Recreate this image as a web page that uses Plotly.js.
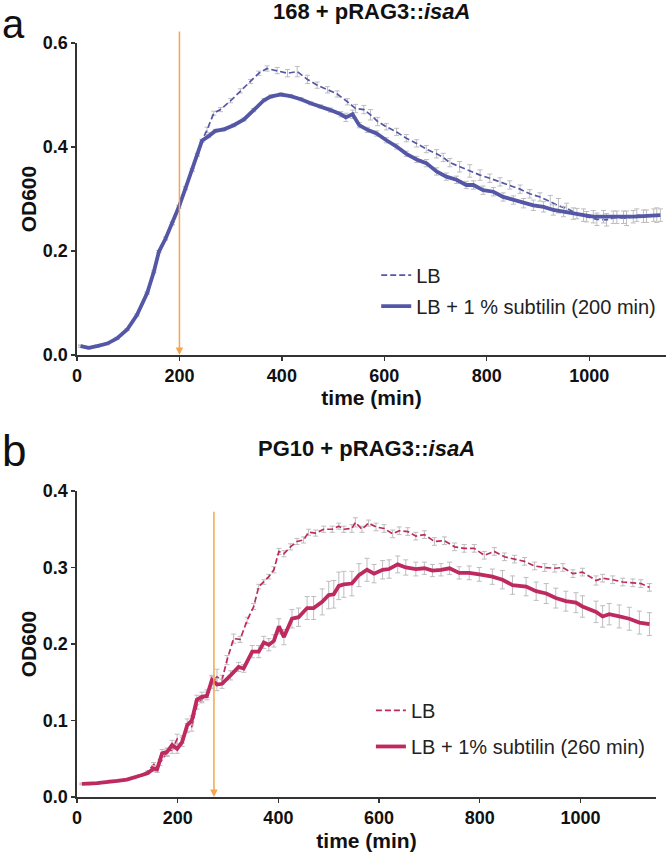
<!DOCTYPE html>
<html>
<head>
<meta charset="utf-8">
<script src="https://cdn.plot.ly/plotly-3.0.1.min.js"></script>
<style>html,body{margin:0;padding:0;background:#fff;}#chart{width:666px;height:852px;}</style>
</head>
<body>
<div id="chart"></div>
<script>
// ---------- Panel a: 168 + pRAG3::isaA ----------
const timeA_sub = [7,23,39,59,78,98,117,137,150,160,173,186,199,212,225,235,244,257,270,287,306,326,345,365,378,398,417,437,456,476,495,515,525,538,551,567,585,604,624,643,663,682,702,721,741,760,774,793,813,832,852,872,891,911,930,950,969,989,1008,1028,1047,1067,1086,1106,1126,1139];
const odA_sub = [0.017,0.014,0.017,0.022,0.032,0.049,0.077,0.119,0.160,0.199,0.224,0.253,0.285,0.321,0.356,0.385,0.412,0.421,0.431,0.434,0.442,0.453,0.471,0.490,0.497,0.501,0.498,0.492,0.484,0.478,0.471,0.463,0.457,0.463,0.442,0.433,0.426,0.413,0.401,0.387,0.376,0.369,0.353,0.343,0.337,0.327,0.327,0.317,0.314,0.304,0.298,0.292,0.288,0.285,0.279,0.276,0.272,0.269,0.266,0.266,0.265,0.265,0.266,0.267,0.269,0.269];
const errA_sub = [0.002,0.002,0.002,0.002,0.002,0.002,0.002,0.002,0.002,0.002,0.003,0.003,0.003,0.003,0.003,0.003,0.003,0.003,0.003,0.003,0.003,0.003,0.003,0.003,0.003,0.003,0.003,0.003,0.003,0.003,0.004,0.005,0.008,0.008,0.005,0.005,0.005,0.005,0.005,0.005,0.006,0.007,0.007,0.007,0.007,0.007,0.008,0.008,0.008,0.008,0.008,0.009,0.010,0.010,0.010,0.010,0.011,0.012,0.012,0.012,0.012,0.012,0.012,0.012,0.012,0.012];

const timeA_LB = [7,23,39,59,78,98,117,137,150,160,173,186,199,212,225,235,244,254,267,280,300,319,339,355,371,391,411,430,450,469,489,508,528,544,560,573,587,604,624,643,663,682,702,715,728,747,767,787,806,826,845,865,884,904,924,940,956,976,995,1015,1034,1054,1073,1093,1112,1132];
const odA_LB = [0.017,0.014,0.017,0.022,0.032,0.049,0.077,0.119,0.160,0.199,0.224,0.253,0.285,0.321,0.356,0.385,0.412,0.433,0.465,0.472,0.489,0.508,0.526,0.542,0.551,0.547,0.542,0.545,0.530,0.519,0.510,0.502,0.487,0.474,0.472,0.462,0.449,0.439,0.429,0.417,0.407,0.396,0.387,0.380,0.370,0.362,0.354,0.346,0.340,0.333,0.327,0.319,0.310,0.304,0.295,0.287,0.282,0.272,0.266,0.261,0.260,0.265,0.263,0.269,0.267,0.269];
const errA_LB = [0.002,0.002,0.002,0.002,0.002,0.002,0.002,0.002,0.002,0.002,0.002,0.002,0.002,0.002,0.002,0.002,0.002,0.005,0.004,0.004,0.004,0.004,0.004,0.004,0.005,0.006,0.007,0.010,0.008,0.006,0.006,0.006,0.006,0.008,0.008,0.010,0.008,0.006,0.007,0.007,0.007,0.007,0.008,0.008,0.008,0.010,0.012,0.010,0.008,0.008,0.008,0.008,0.008,0.008,0.012,0.014,0.010,0.010,0.010,0.012,0.012,0.012,0.014,0.012,0.012,0.014];

// ---------- Panel b: PG10 + pRAG3::isaA ----------
const timeB_sub = [10,25,40,53,66,80,99,113,126,140,152,159,169,179,189,199,209,219,228,238,248,258,268,278,288,305,321,331,348,361,371,381,391,401,411,427,440,457,470,487,500,510,520,530,546,560,576,590,607,620,637,653,673,690,706,723,740,759,779,799,825,845,865,892,912,932,951,971,991,1004,1031,1044,1057,1077,1097,1117,1137];
const odB_sub = [0.017,0.017,0.018,0.019,0.0205,0.021,0.0227,0.025,0.028,0.031,0.037,0.036,0.057,0.059,0.068,0.063,0.072,0.094,0.100,0.127,0.131,0.132,0.153,0.147,0.148,0.159,0.170,0.168,0.190,0.190,0.202,0.199,0.204,0.223,0.209,0.233,0.235,0.247,0.247,0.255,0.264,0.265,0.276,0.278,0.279,0.290,0.297,0.292,0.297,0.298,0.304,0.300,0.298,0.299,0.296,0.297,0.299,0.293,0.293,0.291,0.288,0.284,0.277,0.275,0.269,0.266,0.260,0.256,0.254,0.249,0.242,0.236,0.239,0.236,0.233,0.228,0.226];
const errB_sub = [0.001,0.001,0.001,0.001,0.001,0.001,0.001,0.001,0.001,0.001,0.004,0.004,0.005,0.005,0.006,0.006,0.006,0.008,0.006,0.006,0.006,0.005,0.006,0.008,0.006,0.006,0.006,0.005,0.008,0.008,0.008,0.008,0.008,0.010,0.010,0.012,0.012,0.015,0.015,0.017,0.018,0.018,0.018,0.017,0.016,0.015,0.015,0.012,0.012,0.012,0.011,0.010,0.009,0.008,0.008,0.008,0.008,0.008,0.009,0.009,0.010,0.012,0.012,0.012,0.012,0.013,0.013,0.013,0.013,0.014,0.014,0.014,0.014,0.015,0.015,0.015,0.015];

const timeB_LB = [10,25,40,53,66,80,99,113,126,140,152,165,179,189,199,209,219,228,238,248,258,268,278,288,298,311,324,338,351,361,371,381,391,401,411,424,437,450,460,474,490,507,520,530,546,553,566,579,594,610,627,640,657,673,690,710,730,750,769,789,809,829,849,869,889,909,929,949,965,985,1004,1031,1044,1064,1084,1104,1120,1137];
const odB_LB = [0.017,0.017,0.018,0.019,0.021,0.021,0.023,0.025,0.028,0.033,0.042,0.045,0.058,0.062,0.076,0.075,0.090,0.092,0.120,0.128,0.135,0.150,0.157,0.153,0.179,0.207,0.206,0.231,0.249,0.275,0.281,0.288,0.297,0.321,0.318,0.327,0.334,0.336,0.346,0.345,0.350,0.350,0.354,0.350,0.351,0.359,0.350,0.358,0.353,0.351,0.344,0.348,0.347,0.341,0.343,0.334,0.335,0.327,0.325,0.325,0.316,0.321,0.314,0.311,0.308,0.302,0.300,0.299,0.300,0.292,0.294,0.283,0.286,0.284,0.281,0.280,0.279,0.274];
const errB_LB = [0.001,0.001,0.001,0.001,0.001,0.001,0.001,0.001,0.001,0.001,0.003,0.004,0.005,0.005,0.006,0.005,0.006,0.006,0.005,0.005,0.005,0.008,0.010,0.006,0.006,0.006,0.004,0.004,0.004,0.003,0.003,0.003,0.004,0.004,0.004,0.004,0.004,0.004,0.004,0.004,0.004,0.004,0.004,0.004,0.005,0.006,0.004,0.004,0.005,0.005,0.005,0.005,0.005,0.005,0.005,0.005,0.005,0.005,0.005,0.005,0.005,0.005,0.005,0.005,0.005,0.005,0.005,0.005,0.005,0.005,0.005,0.006,0.005,0.005,0.005,0.005,0.005,0.005];

const xTicks = [0, 200, 400, 600, 800, 1000];
const addTimeA = 200;   // subtilin addition, panel a
const addTimeB = 272;   // subtilin addition, panel b (arrow position)

const BLUE = '#5357A6';
const RED = '#BE2A5F';
const ORANGE = '#F5A54E';
const ERR = '#BDBDBD';
const FONT = 'Liberation Sans, Arial, Helvetica, sans-serif';

function err(arr){ return {type:'data', array:arr, visible:true, color:ERR, thickness:1, width:2.5}; }

const traces = [
  {x: timeA_LB, y: odA_LB, error_y: err(errA_LB), mode:'lines', name:'LB',
   line:{color:BLUE, width:1.7, dash:'6px,3px'}, xaxis:'x', yaxis:'y', legend:'legend', legendgroup:'a1'},
  {x: timeA_sub, y: odA_sub, error_y: err(errA_sub), mode:'lines', name:'LB + 1 % subtilin (200 min)',
   line:{color:BLUE, width:3.8}, xaxis:'x', yaxis:'y', legend:'legend', legendgroup:'a2'},
  {x: timeB_LB, y: odB_LB, error_y: err(errB_LB), mode:'lines', name:'LB',
   line:{color:RED, width:1.7, dash:'6px,3px'}, xaxis:'x2', yaxis:'y2', legend:'legend2', legendgroup:'b1'},
  {x: timeB_sub, y: odB_sub, error_y: err(errB_sub), mode:'lines', name:'LB + 1% subtilin (260 min)',
   line:{color:RED, width:3.8}, xaxis:'x2', yaxis:'y2', legend:'legend2', legendgroup:'b2'}
];

const tickFont = {family:FONT, size:18, weight:700, color:'#111'};
const titleFont = {family:FONT, size:21, weight:700, color:'#111'};
function xAxis(domain, anchor, standoff){
  return {domain:domain, anchor:anchor, range:[0,1150], tickvals:xTicks, ticks:'outside', ticklen:4, tickwidth:1.3,
    tickcolor:'#333', showline:true, linecolor:'#333', linewidth:1.6, showgrid:false, zeroline:false,
    tickfont:tickFont, title:{text:'time (min)', font:titleFont, standoff:standoff}};
}
function yAxis(domain, anchor, range, dtick){
  return {domain:domain, anchor:anchor, range:range, dtick:dtick, tickformat:'.1f', ticks:'outside', ticklen:4, tickwidth:1.3,
    tickcolor:'#333', showline:true, linecolor:'#333', linewidth:1.6, showgrid:false, zeroline:false,
    tickfont:tickFont, title:{text:'OD600', font:titleFont, standoff:0}};
}

const legendBase = {font:{family:FONT, size:20, color:'#222'}, bgcolor:'rgba(0,0,0,0)', traceorder:'grouped',
  xref:'paper', yref:'paper', xanchor:'left', yanchor:'top'};

const layout = {
  width:666, height:852,
  margin:{l:77, r:0, t:0, b:0},
  paper_bgcolor:'#fff', plot_bgcolor:'#fff',
  font:{family:FONT, color:'#111'},
  showlegend:true,
  xaxis: xAxis([0,1], 'y', 0),
  yaxis: yAxis([0.5833, 0.9495], 'x', [0,0.6], 0.2),
  xaxis2: xAxis([0,0.983], 'y2', 7),
  yaxis2: yAxis([0.0646, 0.4237], 'x2', [0,0.4], 0.1),
  legend: Object.assign({}, legendBase, {x:0.508, y:0.700, tracegroupgap:2}),
  legend2: Object.assign({}, legendBase, {x:0.499, y:0.189, tracegroupgap:7}),
  annotations:[
    {text:'168 + pRAG3::<i>isaA</i>', xref:'paper', yref:'paper', x:0.5, y:0.987, xanchor:'center', yanchor:'middle',
     showarrow:false, font:{family:FONT, size:22, weight:700, color:'#111'}},
    {text:'PG10 + pRAG3::<i>isaA</i>', xref:'paper', yref:'paper', x:0.491, y:0.474, xanchor:'center', yanchor:'middle',
     showarrow:false, font:{family:FONT, size:22, weight:700, color:'#111'}},
    {text:'a', xref:'paper', yref:'paper', x:-0.1307, y:1.0, xanchor:'left', yanchor:'top', showarrow:false,
     font:{family:FONT, size:40, color:'#111'}},
    {text:'b', xref:'paper', yref:'paper', x:-0.1307, y:0.5023, xanchor:'left', yanchor:'top', showarrow:false,
     font:{family:FONT, size:44, color:'#111'}},
    {text:'', x:addTimeA, y:0, xref:'x', yref:'y', ax:addTimeA, ay:0.625, axref:'x', ayref:'y',
     showarrow:true, arrowhead:2, arrowsize:1, arrowwidth:1.5, arrowcolor:ORANGE, standoff:0, startstandoff:0},
    {text:'', x:addTimeB, y:0, xref:'x2', yref:'y2', ax:addTimeB, ay:0.375, axref:'x2', ayref:'y2',
     showarrow:true, arrowhead:2, arrowsize:1, arrowwidth:1.5, arrowcolor:ORANGE, standoff:0, startstandoff:0}
  ]
};

Plotly.newPlot('chart', traces, layout, {displayModeBar:false, staticPlot:true});
</script>
</body>
</html>
